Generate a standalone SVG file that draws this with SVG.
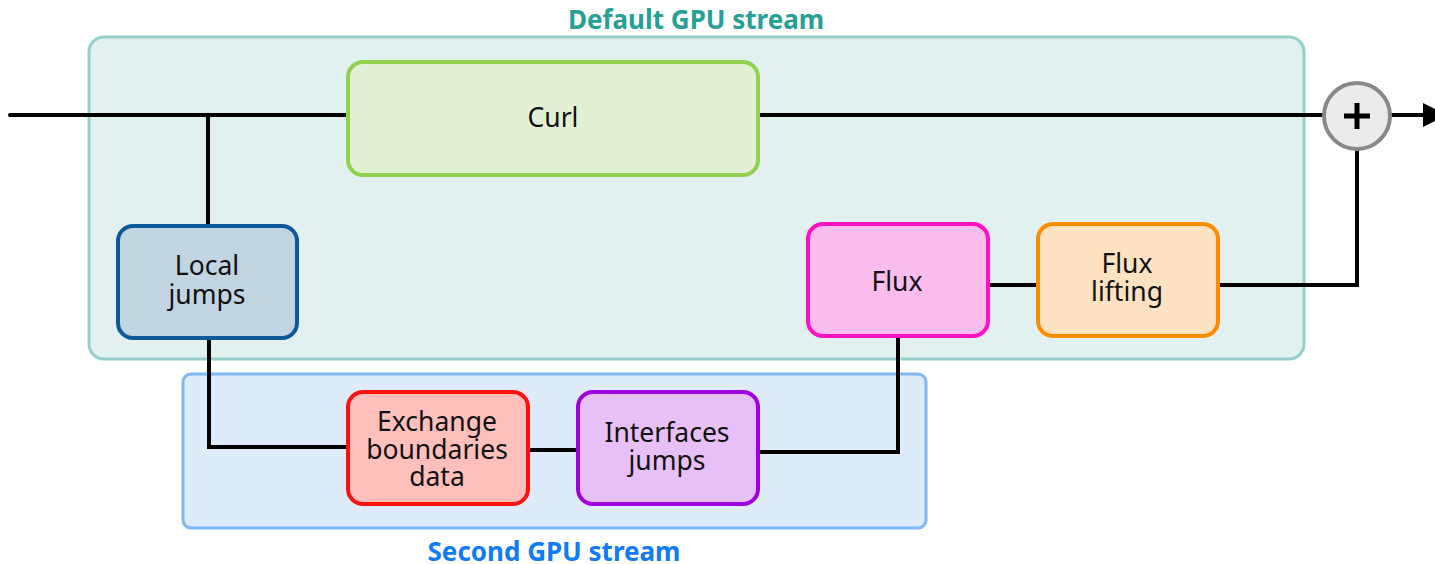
<svg xmlns="http://www.w3.org/2000/svg" width="1435" height="564" viewBox="0 0 1435 564">
<defs>
<style>
.lbl{font-family:"Noto Sans","Open Sans","DejaVu Sans",sans-serif;font-size:26.5px;fill:#111;text-anchor:middle}
.title{font-family:"Noto Sans","Open Sans","DejaVu Sans",sans-serif;font-size:26px;font-weight:bold;text-anchor:middle}
.node{stroke-width:4}
.wire{fill:none;stroke:#000;stroke-width:4;stroke-linejoin:miter;stroke-linecap:round}
</style>
<marker id="arr" viewBox="0 0 10 10" refX="0" refY="5" markerWidth="6" markerHeight="6.5" orient="auto" markerUnits="strokeWidth">
<path d="M0,0 L10,5 L0,10 z" fill="#000"/>
</marker>
</defs>
<g id="default-stream">
<rect x="89" y="37" width="1215" height="322" rx="15" fill="#e2f0f0" stroke="#94cfca" stroke-width="3"/>
<text class="title" x="696" y="29" fill="#26a095">Default GPU stream</text>
</g>
<g id="second-stream">
<rect x="183" y="374" width="743" height="154" rx="8" fill="#deebfb" stroke="#7fb8f8" stroke-width="3"/>
<text class="title" x="554" y="561" fill="#0f7bf5">Second GPU stream</text>
</g>
<g id="connectors">
<path class="wire" d="M10,115 H347"/>
<path class="wire" d="M758,115 H1323"/>
<path class="wire" d="M208,115 V225"/>
<path class="wire" d="M209,338 V447 H347"/>
<path class="wire" d="M528,450 H577"/>
<path class="wire" d="M758,452 H898 V337"/>
<path class="wire" d="M988,285 H1037"/>
<path class="wire" d="M1219,285 H1357 V149"/>
<path class="wire" d="M1391,115 H1423" marker-end="url(#arr)"/>
</g>
<g id="curl">
<rect class="node" x="348" y="62" width="410" height="113" rx="15" fill="#e2f0d3" stroke="#92d050"/>
<text class="lbl" x="553" y="127">Curl</text>
</g>
<g id="local-jumps">
<rect class="node" x="118" y="226" width="179" height="112" rx="15" fill="#c0d4e2" stroke="#0f5898"/>
<text class="lbl" x="207" y="275">Local<tspan x="207" dy="29">jumps</tspan></text>
</g>
<g id="flux">
<rect class="node" x="808" y="224" width="180" height="112" rx="15" fill="#fdbcee" stroke="#ff10c0"/>
<text class="lbl" x="897" y="291">Flux</text>
</g>
<g id="flux-lifting">
<rect class="node" x="1038" y="224" width="180" height="112" rx="15" fill="#ffe2c2" stroke="#ff8c00"/>
<text class="lbl" x="1127" y="273">Flux<tspan x="1127" dy="28">lifting</tspan></text>
</g>
<g id="exchange">
<rect class="node" x="348" y="392" width="180" height="112" rx="15" fill="#ffc0bc" stroke="#ff1010"/>
<text class="lbl" x="437" y="431">Exchange<tspan x="437" dy="27.5">boundaries</tspan><tspan x="437" dy="27.5">data</tspan></text>
</g>
<g id="interfaces-jumps">
<rect class="node" x="578" y="392" width="180" height="112" rx="15" fill="#e8c0f8" stroke="#a000e0"/>
<text class="lbl" x="667" y="442">Interfaces<tspan x="667" dy="28">jumps</tspan></text>
</g>
<g id="sum">
<circle cx="1357" cy="116" r="33" fill="#ebebeb" stroke="#888" stroke-width="4"/>
<path d="M1344,116 H1370 M1357,103 V129" stroke="#000" stroke-width="5"/>
</g>
</svg>
